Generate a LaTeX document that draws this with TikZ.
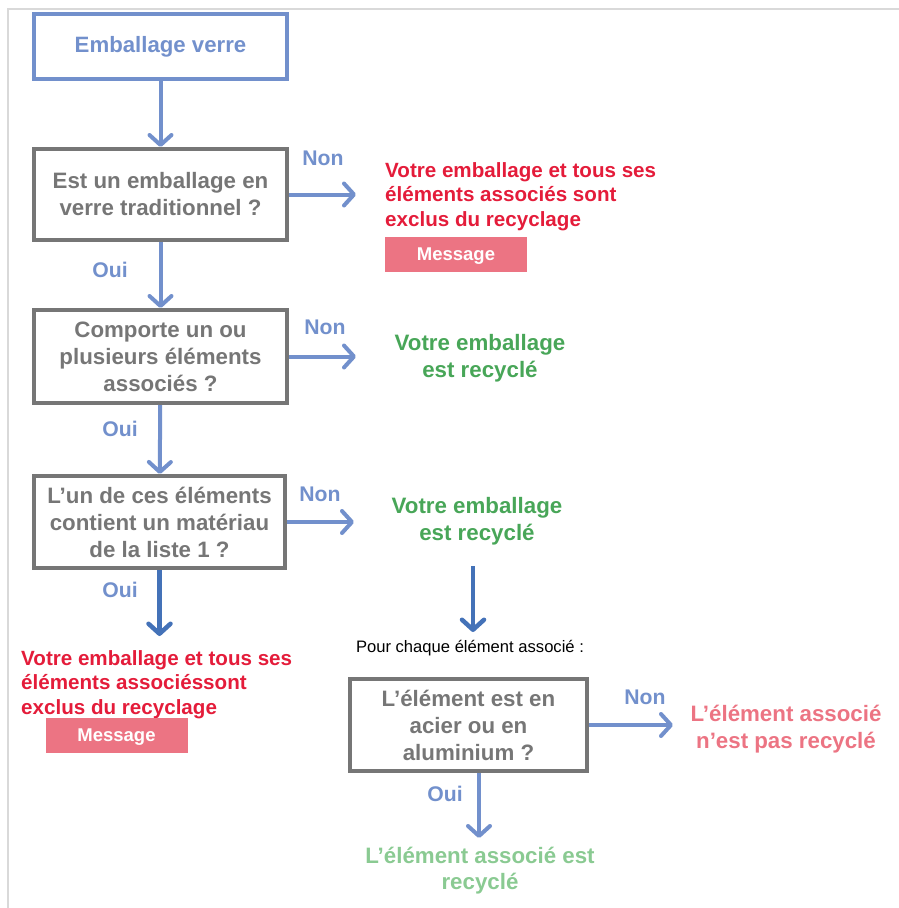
\documentclass[tikz,border=0pt]{standalone}
\usepackage{fontspec}
\setmainfont{Liberation Sans}
\usepackage{xcolor}
\usetikzlibrary{arrows.meta}
\usetikzlibrary{positioning}

\definecolor{bleu}{RGB}{114,144,204}
\definecolor{bleufonce}{RGB}{68,114,184}
\definecolor{gris}{RGB}{118,118,118}
\definecolor{rouge}{RGB}{228,28,58}
\definecolor{rose}{RGB}{236,116,131}
\definecolor{vert}{RGB}{72,166,88}
\definecolor{vertclair}{RGB}{138,202,146}
\definecolor{cadre}{RGB}{217,217,217}

\begin{document}
\begin{tikzpicture}[x=1pt, y=-1pt,
  question/.style={draw=gris, line width=4pt, text=gris, align=center, inner sep=0pt,
    font=\bfseries\fontsize{22.3}{27}\selectfont},
  depart/.style={draw=bleu, line width=4pt, text=bleu, inner sep=0pt,
    font=\bfseries\fontsize{22.2}{26}\selectfont},
  flux/.style={draw=bleu, line width=4pt, -{Straight Barb[length=10pt,width=22pt,round]}},
  fluxfonce/.style={flux, draw=bleufonce, line width=4.5pt},
  reponse/.style={text=bleu, font=\bfseries\fontsize{21.2}{24}\selectfont},
  exclus/.style={text=rouge, align=left, anchor=west, inner sep=0pt,
    font=\bfseries\fontsize{20.6}{24.5}\selectfont},
  resultat/.style={align=center, inner sep=0pt, font=\bfseries\fontsize{22.3}{26.5}\selectfont},
  message/.style={fill=rose, text=white, minimum width=142pt, minimum height=35pt,
    inner sep=0pt, text depth=0pt, font=\bfseries\fontsize{18.5}{21}\selectfont}
]
\useasboundingbox (0,0) rectangle (899,908);
\draw[cadre, line width=2pt] (899,9) -- (8,9) -- (8,908);

% colonne de gauche
\node[depart, minimum width=253pt, minimum height=65pt] (verre) at (160.5,46.5) {Emballage verre};
\node[question, minimum width=253pt, minimum height=91pt] (q1) at (160.5,194.5)
  {Est un emballage en\\verre traditionnel ?};
\node[question, minimum width=253pt, minimum height=93pt] (q2) at (160.5,356.5)
  {Comporte un ou\\plusieurs éléments\\associés ?};
\node[question, minimum width=251pt, minimum height=92pt] (q3) at (159.5,522)
  {L’un de ces éléments\\contient un matériau\\de la liste 1 ?};

% sorties
\node[exclus] (exclus1) at (385,196.5)
  {Votre emballage et tous ses\\éléments associés sont\\exclus du recyclage};
\node[message] (msg1) at (456,254.5) {Message};
\node[resultat, text=vert] (recycle1) at (480,358) {Votre emballage\\est recyclé};
\node[resultat, text=vert] (recycle2) at (477,521) {Votre emballage\\est recyclé};
\node[exclus] (exclus2) at (21,684.5)
  {Votre emballage et tous ses\\éléments associéssont\\exclus du recyclage};
\node[message] (msg2) at (116.5,735.5) {Message};

% boucle sur les éléments
\node[font=\fontsize{16.6}{19}\selectfont, inner sep=0pt] (chaque) at (470,648)
  {Pour chaque élément associé :};
\node[question, minimum width=237pt, minimum height=92pt] (q4) at (468.5,725)
  {L’élément est en\\acier ou en\\aluminium ?};
\node[resultat, text=rose] (nonrecycle) at (786,729) {L’élément associé\\n’est pas recyclé};
\node[resultat, text=vertclair] (recycle3) at (480,870.5) {L’élément associé est\\recyclé};

\foreach \nom/\x/\y/\mot in {non1/323/158/Non, non2/325/327/Non, non3/320/494/Non,
  non4/645/697/Non, oui1/110/270/Oui, oui2/120/429/Oui, oui3/120/590/Oui, oui4/445/794/Oui}
  \node[reponse] (\nom) at (\x,\y) {\mot};

\coordinate (fin1) at (356,194.5);
\coordinate (fin2) at (356,356.5);
\coordinate (fin3) at (354,522);
\coordinate (fin4) at (159.5,636);
\coordinate (haut) at (473,566);
\coordinate (bas) at (473,632);
\coordinate (fin5) at (673,725);
\coordinate (fin6) at (479,838);

\draw[flux] (verre) -- (q1);
\draw[flux] (q1) -- (q2);
\draw[flux] (q2) -- (q3);
\draw[flux] (q1.east) -- (fin1);
\draw[flux] (q2.east) -- (fin2);
\draw[flux] (q3.east) -- (fin3);
\draw[fluxfonce] (q3.south) -- (fin4);
\draw[fluxfonce] (haut) -- (bas);
\draw[flux] (q4.east) -- (fin5);
\draw[flux] (q4.south -| fin6) -- (fin6);
\end{tikzpicture}
\end{document}
